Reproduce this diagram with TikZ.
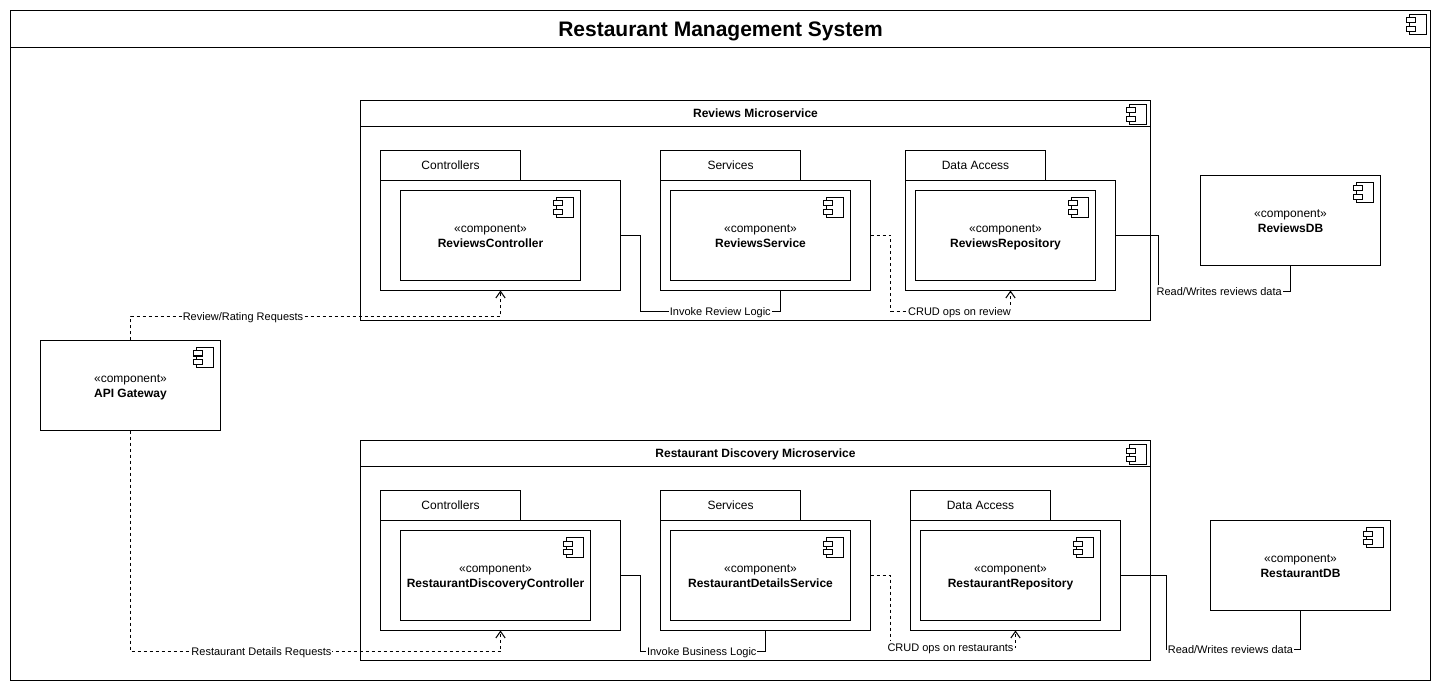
\documentclass[tikz,border=0pt]{standalone}
\usepackage{fontspec}
\setmainfont{Liberation Sans}
\usetikzlibrary{arrows.meta}
\tikzset{
	>={Straight Barb[length=5pt,width=7pt]},
	every node/.style={inner sep=0pt,outer sep=0pt},
	sz/.style 2 args={minimum width=#1*.75pt,minimum height=#2*.75pt},
	base/.style={draw,line width=.75pt,anchor=north west,font=\fontsize{9}{11.25}\selectfont,align=center},
	compbox/.style={base,fill=white},
	conn/.style={line width=.75pt},
	connd/.style={line width=.75pt,dash pattern=on 2.25pt off 2.25pt},
	lbl/.style={fill=white,inner sep=.6pt,text height=7.25pt,text depth=.95pt,font=\fontsize{8.25}{10}\selectfont},
}
\newcommand{\stereo}[1]{\rule{0pt}{9.3pt}«component»\\\rule[-2.5pt]{0pt}{2.5pt}\textbf{#1}}
\newcommand{\compicon}[2][(0,0)]{
	\begin{scope}[shift={(#2.north east)},shift={#1},line width=.75pt]
		\draw (-24,7) rectangle (-7,27);
		\draw[fill=white] (-27,10.5) rectangle (-18,15.5);
		\draw[fill=white] (-27,19) rectangle (-18,24);
	\end{scope}
}
\begin{document}
\begin{tikzpicture}[x=.75pt,y=-.75pt]
	\useasboundingbox (0,0) rectangle (1441,691);
	\node[base,sz={1420}{670}] (sysFrame) at (10.5,10.5) {};
	\node[base,sz={1420}{37},font=\bfseries\fontsize{15.75}{18}\selectfont] (sysHead) at (10.5,10.5) {\rule{0pt}{15pt}Restaurant Management System};

	\node[base,sz={790}{220}] (rvFrame) at (360.5,100.5) {};
	\node[base,sz={790}{26},font=\bfseries\fontsize{9}{11}\selectfont] (rvHead) at (360.5,100.5) {Reviews Microservice};
	\node[base,sz={790}{220}] (rdFrame) at (360.5,440.5) {};
	\node[base,sz={790}{26},text depth=0pt,font=\bfseries\fontsize{9}{11}\selectfont] (rdHead) at (360.5,440.5) {Restaurant Discovery Microservice};

	\node[base,sz={140}{30}] (rvCtlTab) at (380.5,150.5) {Controllers};
	\node[base,sz={240}{110}] (rvCtlBody) at (380.5,180.5) {};
	\node[compbox,sz={180}{90}] (rvCtl) at (400.5,190.5) {\stereo{ReviewsController}};
	\node[base,sz={140}{30}] (rvSvcTab) at (660.5,150.5) {Services};
	\node[base,sz={210}{110}] (rvSvcBody) at (660.5,180.5) {};
	\node[compbox,sz={180}{90}] (rvSvc) at (670.5,190.5) {\stereo{ReviewsService}};
	\node[base,sz={140}{30}] (rvDaoTab) at (905.5,150.5) {Data Access};
	\node[base,sz={210}{110}] (rvDaoBody) at (905.5,180.5) {};
	\node[compbox,sz={180}{90}] (rvDao) at (915.5,190.5) {\stereo{ReviewsRepository}};
	\node[compbox,sz={180}{90}] (rvDb) at (1200.5,175.5) {\stereo{ReviewsDB}};

	\node[compbox,sz={180}{90}] (gateway) at (40.5,340.5) {\stereo{API Gateway}};

	\node[base,sz={140}{30}] (rdCtlTab) at (380.5,490.5) {Controllers};
	\node[base,sz={240}{110}] (rdCtlBody) at (380.5,520.5) {};
	\node[compbox,sz={190}{90}] (rdCtl) at (400.5,530.5) {\stereo{RestaurantDiscoveryController}};
	\node[base,sz={140}{30}] (rdSvcTab) at (660.5,490.5) {Services};
	\node[base,sz={210}{110}] (rdSvcBody) at (660.5,520.5) {};
	\node[compbox,sz={180}{90}] (rdSvc) at (670.5,530.5) {\stereo{RestaurantDetailsService}};
	\node[base,sz={140}{30}] (rdDaoTab) at (910.5,490.5) {Data Access};
	\node[base,sz={210}{110}] (rdDaoBody) at (910.5,520.5) {};
	\node[compbox,sz={180}{90}] (rdDao) at (920.5,530.5) {\stereo{RestaurantRepository}};
	\node[compbox,sz={180}{90}] (rdDb) at (1210.5,520.5) {\stereo{RestaurantDB}};

	\foreach \n in {rvCtl,rvSvc,rvDao,rvDb,gateway,rdCtl,rdSvc,rdDao,rdDb}
		\compicon{\n};
	\foreach \n in {sysHead,rvHead,rdHead}
		\compicon[(3,-3)]{\n};

	\coordinate (gwRvA) at (130.5,316.5);
	\coordinate (gwRvB) at (500.5,316.5);
	\coordinate (gwRdA) at (130.5,651.5);
	\coordinate (gwRdB) at (500.5,651.5);
	\coordinate (rvInvA) at (640.5,311.5);
	\coordinate (rvInvB) at (780.5,311.5);
	\coordinate (rvCrudA) at (890.5,311.5);
	\coordinate (rvCrudB) at (1010.5,311.5);
	\coordinate (rvDbA) at (1158.5,291.5);
	\coordinate (rvDbB) at (1290.5,291.5);
	\coordinate (rdInvA) at (640.5,651.5);
	\coordinate (rdInvB) at (765.5,651.5);
	\coordinate (rdCrudA) at (890.5,647.5);
	\coordinate (rdCrudB) at (1015.5,647.5);
	\coordinate (rdDbA) at (1166.5,649.5);
	\coordinate (rdDbB) at (1300.5,649.5);

	\draw[connd,->] (gateway.north) -- (gwRvA) -- node[lbl,pos=.304]{Review/Rating Requests} (gwRvB) -- (gwRvB |- rvCtlBody.south);
	\draw[connd,->] (gateway.south) -- (gwRdA) -- node[lbl,pos=.354]{Restaurant Details Requests} (gwRdB) -- (gwRdB |- rdCtlBody.south);

	\draw[conn] (rvCtlBody.east) -| (rvInvA) -- node[lbl,pos=.57]{Invoke Review Logic} (rvInvB) -- (rvInvB |- rvSvcBody.south);
	\draw[connd,->] (rvSvcBody.east) -| (rvCrudA) -- node[lbl,pos=.575]{CRUD ops on review} (rvCrudB) -- (rvCrudB |- rvDaoBody.south);
	\draw[conn] (rvDaoBody.east) -| (rvDbA) -- node[lbl,pos=.46]{Read/Writes reviews data} (rvDbB) -- (rvDbB |- rvDb.south);

	\draw[conn] (rdCtlBody.east) -| (rdInvA) -- node[lbl,pos=.49]{Invoke Business Logic} (rdInvB) -- (rdInvB |- rdSvcBody.south);
	\draw[connd,->] (rdSvcBody.east) -| (rdCrudA) -- node[lbl,pos=.48]{CRUD ops on restaurants} (rdCrudB) -- (rdCrudB |- rdDaoBody.south);
	\draw[conn] (rdDaoBody.east) -| (rdDbA) -- node[lbl,pos=.477]{Read/Writes reviews data} (rdDbB) -- (rdDbB |- rdDb.south);
\end{tikzpicture}
\end{document}
